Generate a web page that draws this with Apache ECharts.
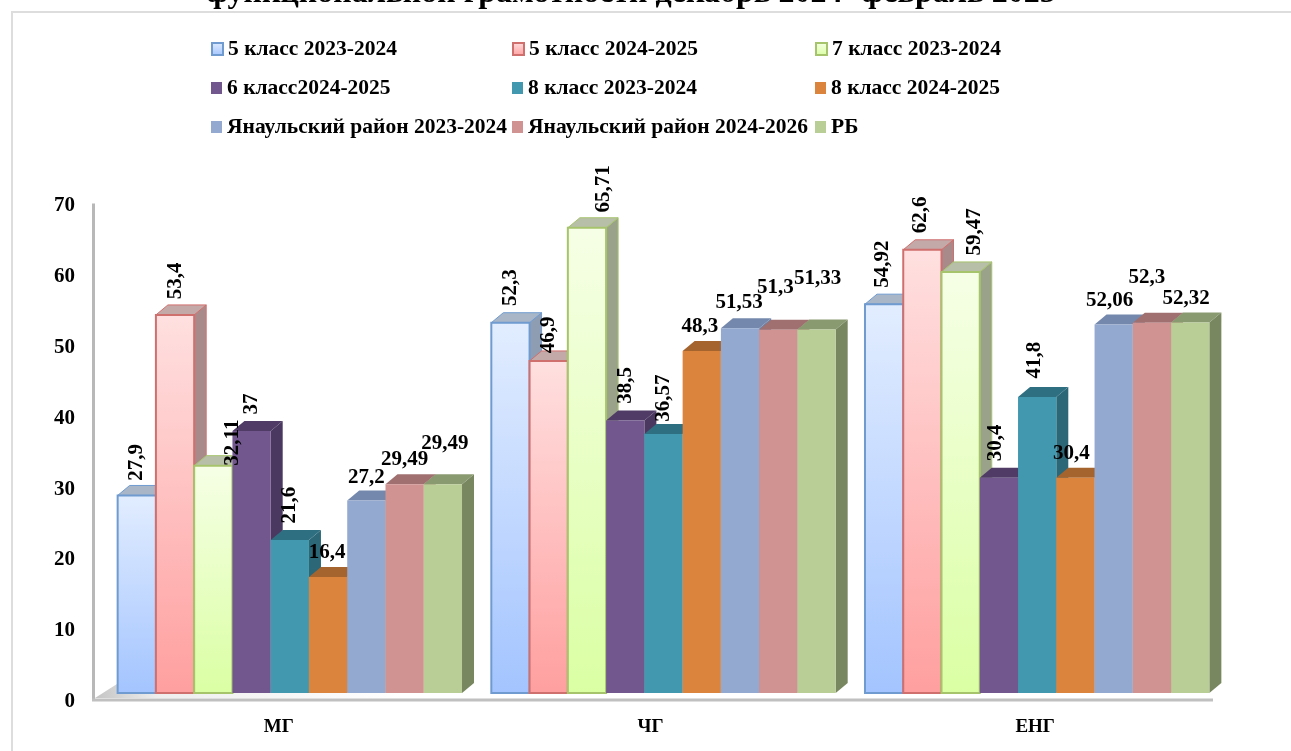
<!DOCTYPE html>
<html><head><meta charset="utf-8">
<style>html,body{margin:0;padding:0;background:#fff}#c{width:1291px;height:751px}</style>
<script src="https://cdn.jsdelivr.net/npm/echarts@6/dist/echarts.min.js"></script>
</head><body><div id="c"></div>
<script>
const categories = ['МГ', 'ЧГ', 'ЕНГ'];
const yTicks = { min: 0, max: 70, interval: 10 };
const seriesNames = ['5 класс 2023-2024', '5 класс 2024-2025', '7 класс 2023-2024', '6 класс2024-2025', '8 класс 2023-2024', '8 класс 2024-2025', 'Янаульский район 2023-2024', 'Янаульский район 2024-2026', 'РБ'];
const grade5y2324 = [27.9, 52.3, 54.92];
const grade5y2425 = [53.4, 46.9, 62.6];
const grade7y2324 = [32.11, 65.71, 59.47];
const grade6y2425 = [37, 38.5, 30.4];
const grade8y2324 = [21.6, 36.57, 41.8];
const grade8y2425 = [16.4, 48.3, 30.4];
const districtY2324 = [27.2, 51.53, 52.06];
const districtY2426 = [29.49, 51.3, 52.3];
const republic = [29.49, 51.33, 52.32];
const seriesValues = [grade5y2324, grade5y2425, grade7y2324, grade6y2425, grade8y2324, grade8y2425, districtY2324, districtY2426, republic];

const grad = (a, b) => new echarts.graphic.LinearGradient(0, 0, 0, 1, [{offset: 0, color: a}, {offset: 1, color: b}]);
const looks = [
  {front: grad('#e2edff', '#a3c4ff'), border: '#6f9bd0', top: '#a9b6c8', side: '#8f9db3', bw: 2},
  {front: grad('#ffe0e0', '#ff9f9f'), border: '#d0706e', top: '#c4a9a9', side: '#a88a8a', bw: 2},
  {front: grad('#f6ffe6', '#daffa3'), border: '#a6c46c', top: '#b8bfa9', side: '#9aa38a', bw: 2},
  {front: '#72578f', top: '#4f3b66', side: '#4b3860', bw: 0},
  {front: '#4198af', top: '#2f6f82', side: '#2c6778', bw: 0},
  {front: '#db843d', top: '#a5632e', side: '#a5632e', bw: 0},
  {front: '#93a9cf', top: '#7488ad', side: '#6f82a5', bw: 0},
  {front: '#d19392', top: '#a07070', side: '#9c6d6c', bw: 0},
  {front: '#b9cd96', top: '#8a9a70', side: '#78875f', bw: 0}
];
// label placement relative to the top of each bar: [dx, dy, rotated]
const labelPlacement = [
  [[0,-33,1],[0,-35,1],[-2,-40,1]],
  [[1,-34,1],[0,-26,1],[-2,-35,1]],
  [[19,-23,1],[17,-39,1],[14,-40,1]],
  [[0,-27,1],[0,-35,1],[-3,-35,1]],
  [[0,-35,1],[0,-36,1],[-3,-37,1]],
  [[-1,-24,0],[-2,-24,0],[-4,-24,0]],
  [[0,-23,0],[-1,-26,0],[-4,-24,0]],
  [[0,-25,0],[-3,-42,0],[-5,-45,0]],
  [[2,-41,0],[1,-51,0],[-4,-24,0]]
];
const FONT = '"Liberation Serif", serif';
const DX = 12, DY = 10, BAR_SHARE = 0.1024;

function barGeom(api, s) {
  const c = api.value(0), v = api.value(1);
  const top = api.coord([c, v]), base = api.coord([c, 0]);
  const w = api.size([1, 0])[0] * BAR_SHARE;
  const x = top[0] + (s - 4) * w - w / 2;
  return {x, w, top: top[1], base: base[1], cx: x + w / 2};
}
const barSeries = seriesNames.map((name, s) => ({
  type: 'custom', name, z: 2,
  coordinateSystem: 'cartesian2d',
  encode: {x: 0, y: 1},
  data: seriesValues[s].map((v, c) => [c, v]),
  itemStyle: {color: looks[s].front, borderColor: looks[s].border || 'transparent', borderWidth: looks[s].bw},
  renderItem(p, api) {
    const g = barGeom(api, s), l = looks[s], b = l.border;
    const st = extra => Object.assign({}, extra, b ? {stroke: b, lineWidth: 1} : {});
    return {type: 'group', children: [
      {type: 'polygon', shape: {points: [[g.x + g.w, g.top], [g.x + g.w + DX, g.top - DY], [g.x + g.w + DX, g.base - DY], [g.x + g.w, g.base]]}, style: st({fill: l.side})},
      {type: 'polygon', shape: {points: [[g.x, g.top], [g.x + DX, g.top - DY], [g.x + g.w + DX, g.top - DY], [g.x + g.w, g.top]]}, style: st({fill: l.top})},
      {type: 'rect', shape: {x: g.x, y: g.top, width: g.w, height: g.base - g.top}, style: {fill: l.front, stroke: b || null, lineWidth: l.bw}}
    ]};
  }
}));
const labelData = [];
seriesValues.forEach((vals, s) => vals.forEach((v, c) => labelData.push([c, v, s])));
const labelSeries = {
  type: 'custom', name: 'labels', z: 20, silent: true,
  coordinateSystem: 'cartesian2d', encode: {x: 0, y: 1}, data: labelData,
  renderItem(p, api) {
    const s = api.value(2), c = api.value(0), g = barGeom(api, s);
    const pl = labelPlacement[s][c];
    return {type: 'text', x: g.cx + pl[0], y: g.top + pl[1], rotation: pl[2] ? Math.PI / 2 : 0,
      style: {text: String(api.value(1)).replace('.', ','), x: 0, y: 0, align: 'center', verticalAlign: 'middle', font: 'bold 21px ' + FONT, fill: '#000'}};
  }
};
const frameSeries = {
  type: 'custom', name: 'frame', z: 1, silent: true,
  coordinateSystem: 'cartesian2d', encode: {x: 0, y: 1}, data: [[0, 0]],
  renderItem(p) {
    const r = p.coordSys, b = r.y + r.height;
    const fade = new echarts.graphic.LinearGradient(0, 0, 1, 0, [{offset: 0, color: '#c4c4c4'}, {offset: 0.2, color: '#eeeeee'}, {offset: 1, color: '#ffffff'}]);
    return {type: 'group', children: [
      {type: 'polygon', shape: {points: [[r.x - 8, b + 5], [r.x + 14, b - 9], [r.x + 300, b - 9], [r.x + 300, b + 5]]}, style: {fill: fade}},
      {type: 'line', shape: {x1: r.x - 9.5, y1: r.y + 6, x2: r.x - 9.5, y2: b + 7}, style: {stroke: '#b8b8b8', lineWidth: 3}},
      {type: 'line', shape: {x1: r.x - 11, y1: b + 7, x2: r.x + r.width - 11, y2: b + 7}, style: {stroke: '#c0c0c0', lineWidth: 3}}
    ]};
  }
};
const legendCols = [211, 512, 815], legendRows = [38, 77, 116];
const chart = echarts.init(document.getElementById('c'));
chart.setOption({
  animation: false,
  backgroundColor: '#fff',
  title: {text: 'функциональной грамотности декабрь 2024- февраль 2025', left: 626, textAlign: 'center', top: -27,
    textStyle: {fontFamily: FONT, fontWeight: 'bold', fontSize: 32, color: '#000'}},
  graphic: [{type: 'rect', z: -1, shape: {x: 12, y: 12, width: 1400, height: 900}, style: {fill: 'none', stroke: '#dddddd', lineWidth: 2}}],
  legend: seriesNames.map((n, i) => ({
    data: [n], left: legendCols[i % 3], top: legendRows[Math.floor(i / 3)], padding: 0,
    itemWidth: 11, itemHeight: 12, itemGap: 5, icon: 'rect', selectedMode: false,
    textStyle: {fontFamily: FONT, fontWeight: 'bold', fontSize: 21.5, color: '#000'}
  })),
  grid: {left: 103, width: 1121, top: 197.4, height: 495.6},
  xAxis: {type: 'category', data: [
      {value: categories[0], textStyle: {padding: [0, 22, 0, 0]}},
      {value: categories[1], textStyle: {padding: [0, 26, 0, 0]}},
      {value: categories[2], textStyle: {padding: [0, 4, 0, 0]}}],
    axisLine: {show: false}, axisTick: {show: false}, splitLine: {show: false},
    axisLabel: {margin: 25, fontFamily: FONT, fontWeight: 'bold', fontSize: 19, color: '#000', interval: 0}},
  yAxis: {type: 'value', min: yTicks.min, max: yTicks.max, interval: yTicks.interval,
    axisLine: {show: false}, axisTick: {show: false}, splitLine: {show: false},
    axisLabel: {margin: 28, formatter: '{t|{value}}', rich: {t: {padding: [17, 0, 0, 0], fontFamily: FONT, fontWeight: 'bold', fontSize: 21, color: '#000'}}}},
  series: [frameSeries].concat(barSeries, [labelSeries])
});
</script></body></html>
